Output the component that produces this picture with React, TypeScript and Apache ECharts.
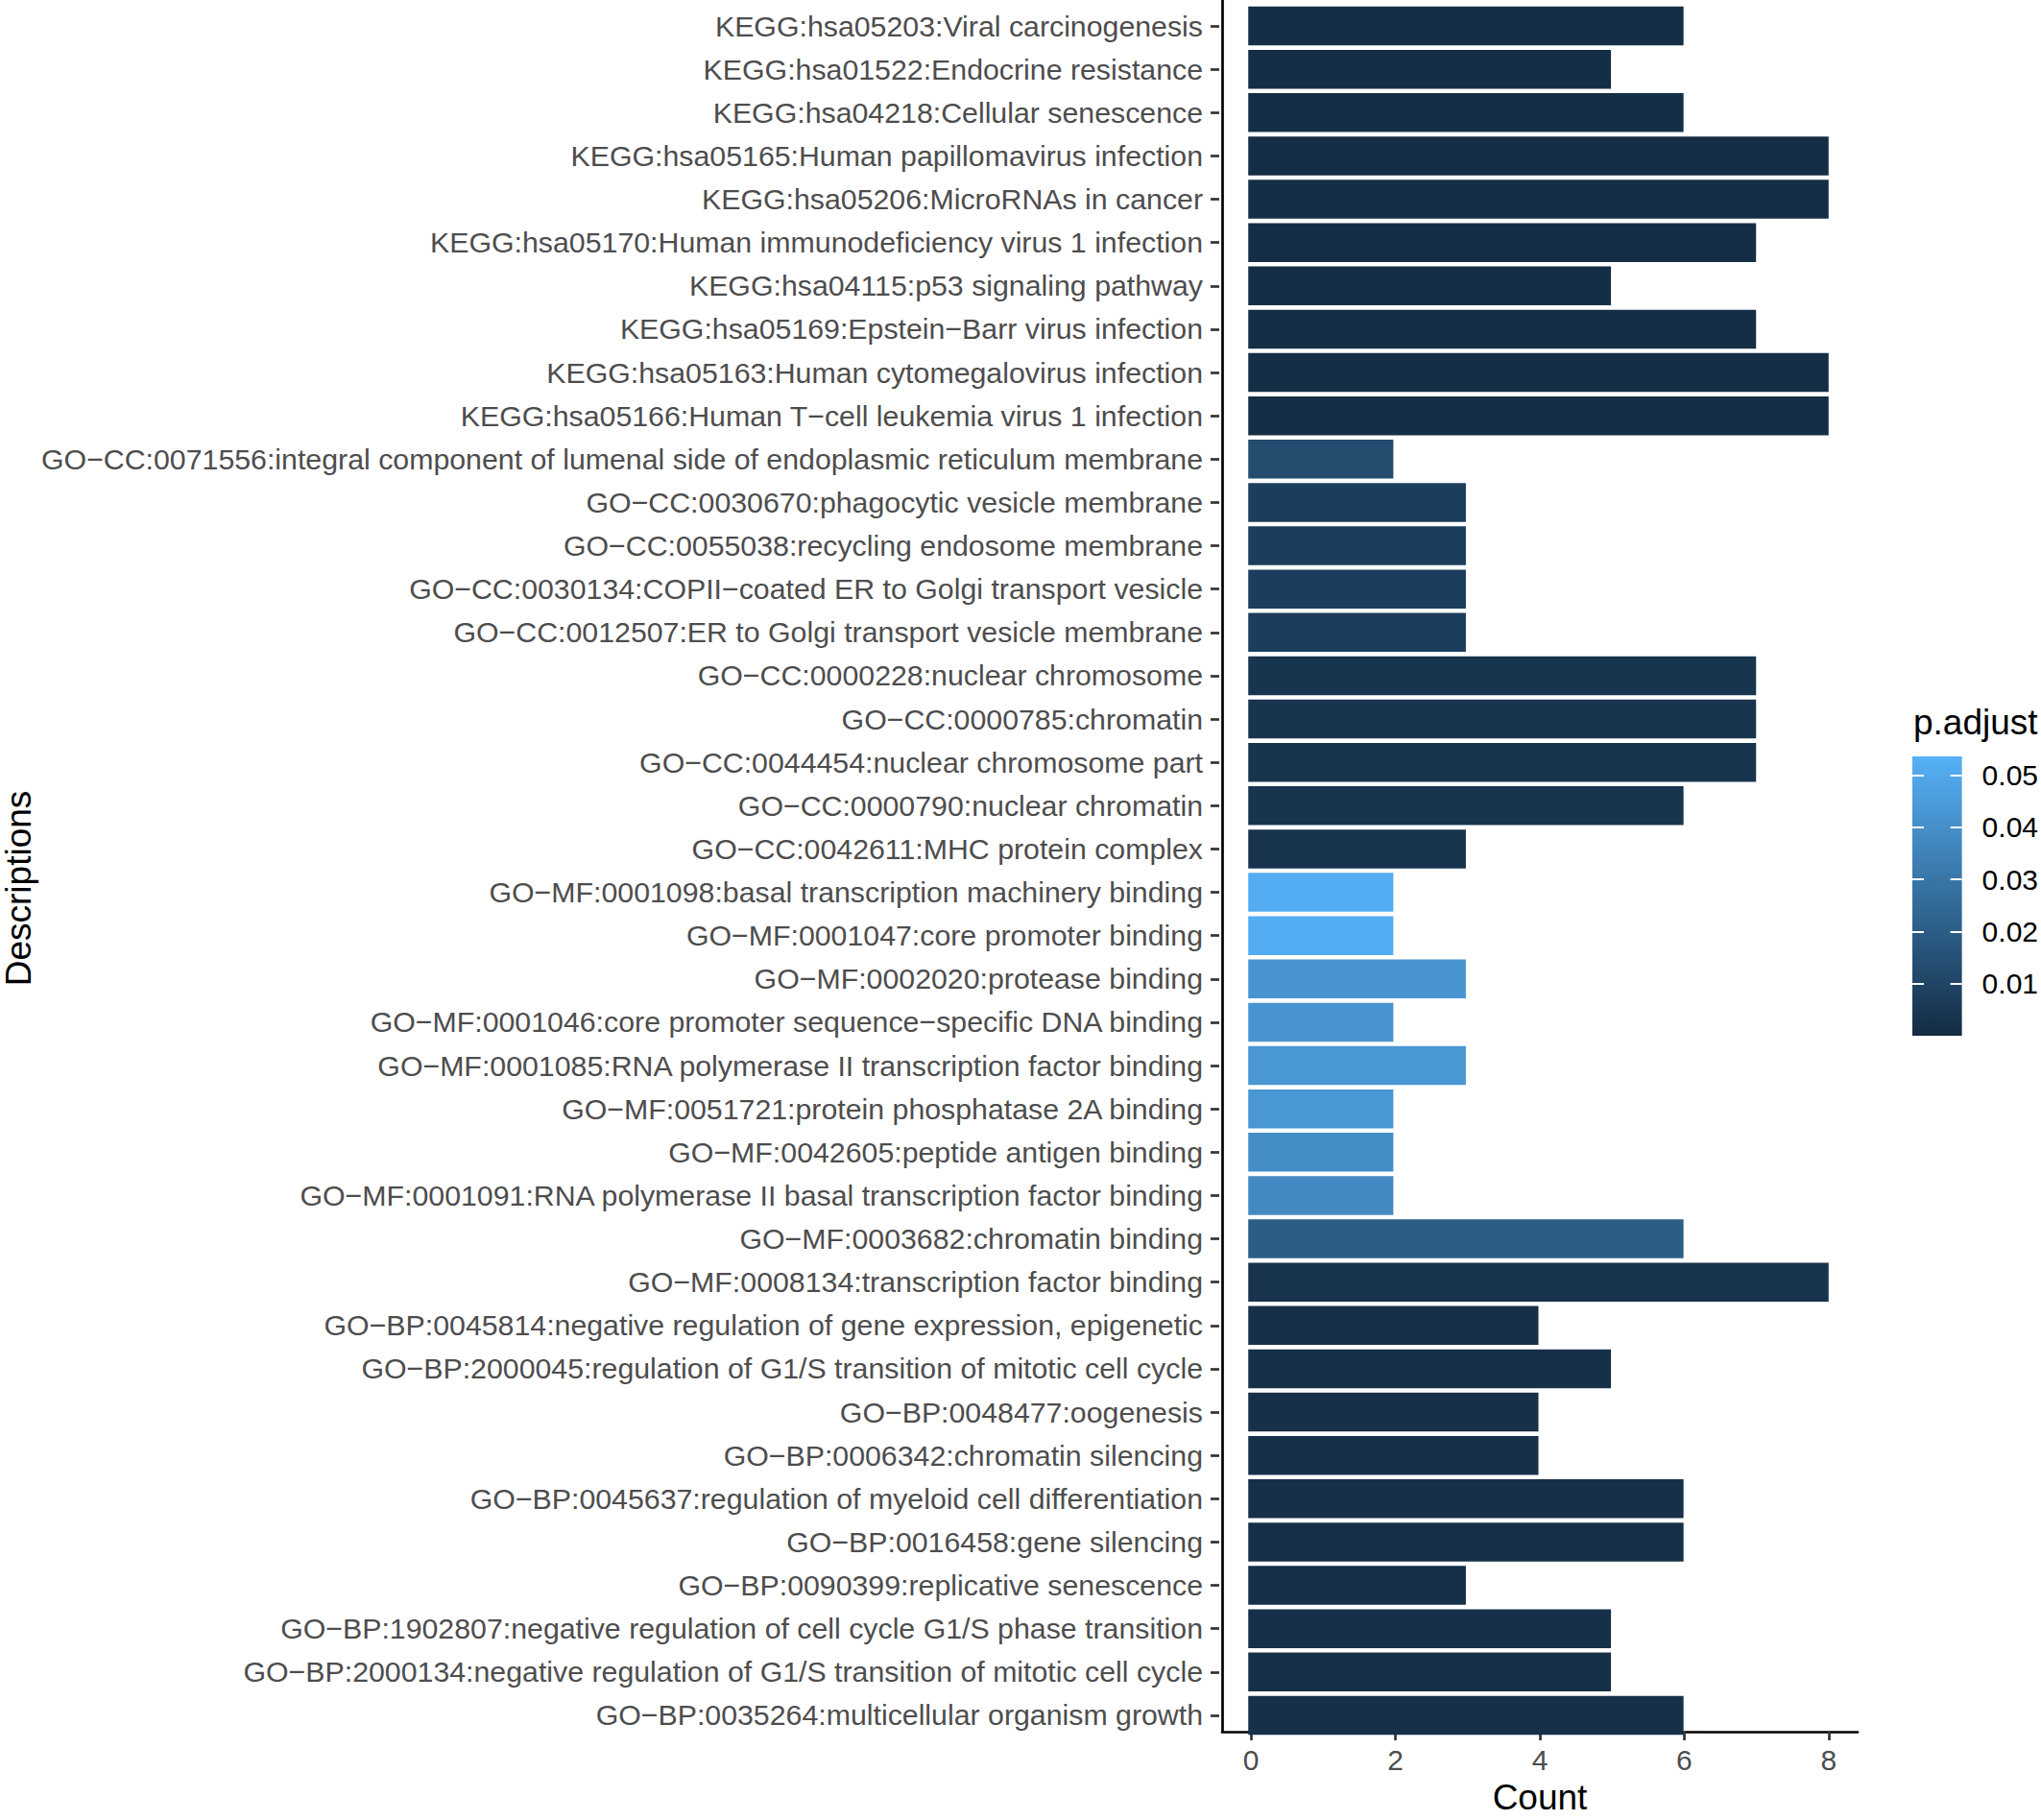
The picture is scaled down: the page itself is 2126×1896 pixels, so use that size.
import React, { useEffect, useRef } from "react";
import * as echarts from "echarts";

const FONT = "'Liberation Sans', Arial, Helvetica, sans-serif";

const categories = [
  "KEGG:hsa05203:Viral carcinogenesis",
  "KEGG:hsa01522:Endocrine resistance",
  "KEGG:hsa04218:Cellular senescence",
  "KEGG:hsa05165:Human papillomavirus infection",
  "KEGG:hsa05206:MicroRNAs in cancer",
  "KEGG:hsa05170:Human immunodeficiency virus 1 infection",
  "KEGG:hsa04115:p53 signaling pathway",
  "KEGG:hsa05169:Epstein\u2212Barr virus infection",
  "KEGG:hsa05163:Human cytomegalovirus infection",
  "KEGG:hsa05166:Human T\u2212cell leukemia virus 1 infection",
  "GO\u2212CC:0071556:integral component of lumenal side of endoplasmic reticulum membrane",
  "GO\u2212CC:0030670:phagocytic vesicle membrane",
  "GO\u2212CC:0055038:recycling endosome membrane",
  "GO\u2212CC:0030134:COPII\u2212coated ER to Golgi transport vesicle",
  "GO\u2212CC:0012507:ER to Golgi transport vesicle membrane",
  "GO\u2212CC:0000228:nuclear chromosome",
  "GO\u2212CC:0000785:chromatin",
  "GO\u2212CC:0044454:nuclear chromosome part",
  "GO\u2212CC:0000790:nuclear chromatin",
  "GO\u2212CC:0042611:MHC protein complex",
  "GO\u2212MF:0001098:basal transcription machinery binding",
  "GO\u2212MF:0001047:core promoter binding",
  "GO\u2212MF:0002020:protease binding",
  "GO\u2212MF:0001046:core promoter sequence\u2212specific DNA binding",
  "GO\u2212MF:0001085:RNA polymerase II transcription factor binding",
  "GO\u2212MF:0051721:protein phosphatase 2A binding",
  "GO\u2212MF:0042605:peptide antigen binding",
  "GO\u2212MF:0001091:RNA polymerase II basal transcription factor binding",
  "GO\u2212MF:0003682:chromatin binding",
  "GO\u2212MF:0008134:transcription factor binding",
  "GO\u2212BP:0045814:negative regulation of gene expression, epigenetic",
  "GO\u2212BP:2000045:regulation of G1/S transition of mitotic cell cycle",
  "GO\u2212BP:0048477:oogenesis",
  "GO\u2212BP:0006342:chromatin silencing",
  "GO\u2212BP:0045637:regulation of myeloid cell differentiation",
  "GO\u2212BP:0016458:gene silencing",
  "GO\u2212BP:0090399:replicative senescence",
  "GO\u2212BP:1902807:negative regulation of cell cycle G1/S phase transition",
  "GO\u2212BP:2000134:negative regulation of G1/S transition of mitotic cell cycle",
  "GO\u2212BP:0035264:multicellular organism growth",
];

const counts = [
  6, 5, 6, 8, 8, 7, 5, 7, 8, 8,
  2, 3, 3, 3, 3, 7, 7, 7, 6, 3,
  2, 2, 3, 2, 3, 2, 2, 2, 6, 8,
  4, 5, 4, 4, 6, 6, 3, 5, 5, 6,
];

const pAdjust = [
  0.001, 0.001, 0.001, 0.001, 0.001, 0.001, 0.001, 0.001, 0.001, 0.001,
  0.013, 0.007, 0.007, 0.007, 0.007, 0.004, 0.004, 0.004, 0.004, 0.003,
  0.052, 0.052, 0.042, 0.042, 0.043, 0.043, 0.0395, 0.038, 0.0198, 0.003,
  0.002, 0.002, 0.002, 0.002, 0.002, 0.002, 0.002, 0.002, 0.002, 0.002,
];

const countTicks = [0, 2, 4, 6, 8];
const pTicks = [0.01, 0.02, 0.03, 0.04, 0.05];
const pMin = 0;
const pMax = 0.0536;
const lowColor = "#132B43";
const highColor = "#56B1F7";

export default function App() {
  const ref = useRef<HTMLDivElement>(null);

  useEffect(() => {
    document.body.style.margin = "0";
    const chart = echarts.init(ref.current as HTMLDivElement, null, { renderer: "svg" });
    const data = categories.map((c, i) => [counts[i], c, pAdjust[i]]);
    const axisColor = "#000";
    const tickColor = "#333";
    chart.setOption({
      animation: false,
      backgroundColor: "#fff",
      title: {
        text: "p.adjust",
        left: 1993,
        top: 734,
        padding: 0,
        textStyle: { fontSize: 37, fontWeight: "normal", color: "#000", fontFamily: FONT },
      },
      grid: [
        { left: 1270, top: 4.5, width: 665, height: 1805 },
        { left: 1270, top: 0, width: 665, height: 1813.5 },
        {
          left: 1992,
          top: 788,
          width: 58,
          height: 291,
          show: true,
          borderWidth: 0,
          backgroundColor: new echarts.graphic.LinearGradient(0, 0, 0, 1, [
            { offset: 0, color: highColor },
            { offset: 1, color: lowColor },
          ]),
        },
      ],
      visualMap: {
        type: "continuous",
        show: false,
        seriesIndex: 0,
        dimension: 2,
        min: pMin,
        max: pMax,
        inRange: { color: [lowColor, highColor] },
      },
      xAxis: [
        { gridIndex: 0, type: "value", min: -0.4, max: 8.4, show: false, axisLine: { onZero: false } },
        {
          gridIndex: 1,
          type: "value",
          min: -0.4,
          max: 8.4,
          axisLine: { show: true, onZero: false, lineStyle: { color: axisColor, width: 2.7 } },
          axisTick: { show: true, customValues: countTicks, length: 9, lineStyle: { color: tickColor, width: 2.7 } },
          axisLabel: { show: true, customValues: countTicks, color: "#4D4D4D", fontSize: 30, margin: 14, fontFamily: FONT },
          splitLine: { show: false },
          name: "Count",
          nameLocation: "middle",
          nameGap: 50,
          nameTextStyle: { fontSize: 37, color: "#000", fontFamily: FONT },
        },
        { gridIndex: 2, type: "value", show: false, min: 0, max: 1, axisLine: { onZero: false } },
      ],
      yAxis: [
        {
          gridIndex: 0,
          type: "category",
          data: categories,
          inverse: true,
          axisLine: { show: false, onZero: false },
          axisTick: { show: true, alignWithLabel: true, length: 9, lineStyle: { color: tickColor, width: 2.7 } },
          axisLabel: { color: "#4D4D4D", fontSize: 30.3, margin: 17, fontFamily: FONT, interval: 0 },
          splitLine: { show: false },
        },
        {
          gridIndex: 1,
          type: "value",
          min: 0,
          max: 1,
          axisLine: { show: true, onZero: false, lineStyle: { color: axisColor, width: 2.7 } },
          axisTick: { show: false },
          axisLabel: { show: false },
          splitLine: { show: false },
          name: "Descriptions",
          nameLocation: "middle",
          nameGap: 1235,
          nameTextStyle: { fontSize: 37, color: "#000", fontFamily: FONT, padding: [0, 47, 0, 0] },
        },
        {
          gridIndex: 2,
          type: "value",
          min: pMin,
          max: pMax,
          position: "right",
          axisLine: { show: false, onZero: false },
          axisTick: { show: true, inside: true, customValues: pTicks, length: 12, lineStyle: { color: "#fff", width: 2 } },
          axisLabel: {
            show: true,
            customValues: pTicks,
            formatter: (v: number) => v.toFixed(2),
            color: "#000",
            fontSize: 30,
            margin: 21,
            fontFamily: FONT,
          },
          splitLine: { show: false },
        },
        {
          gridIndex: 2,
          type: "value",
          min: pMin,
          max: pMax,
          position: "left",
          axisLine: { show: false, onZero: false },
          axisTick: { show: true, inside: true, customValues: pTicks, length: 12, lineStyle: { color: "#fff", width: 2 } },
          axisLabel: { show: false },
          splitLine: { show: false },
        },
      ],
      series: [
        {
          type: "bar",
          xAxisIndex: 0,
          yAxisIndex: 0,
          data,
          encode: { x: 0, y: 1 },
          barWidth: "90%",
        },
      ],
    });
    return () => chart.dispose();
  }, []);

  return <div ref={ref} style={{ width: 2126, height: 1896 }} />;
}
